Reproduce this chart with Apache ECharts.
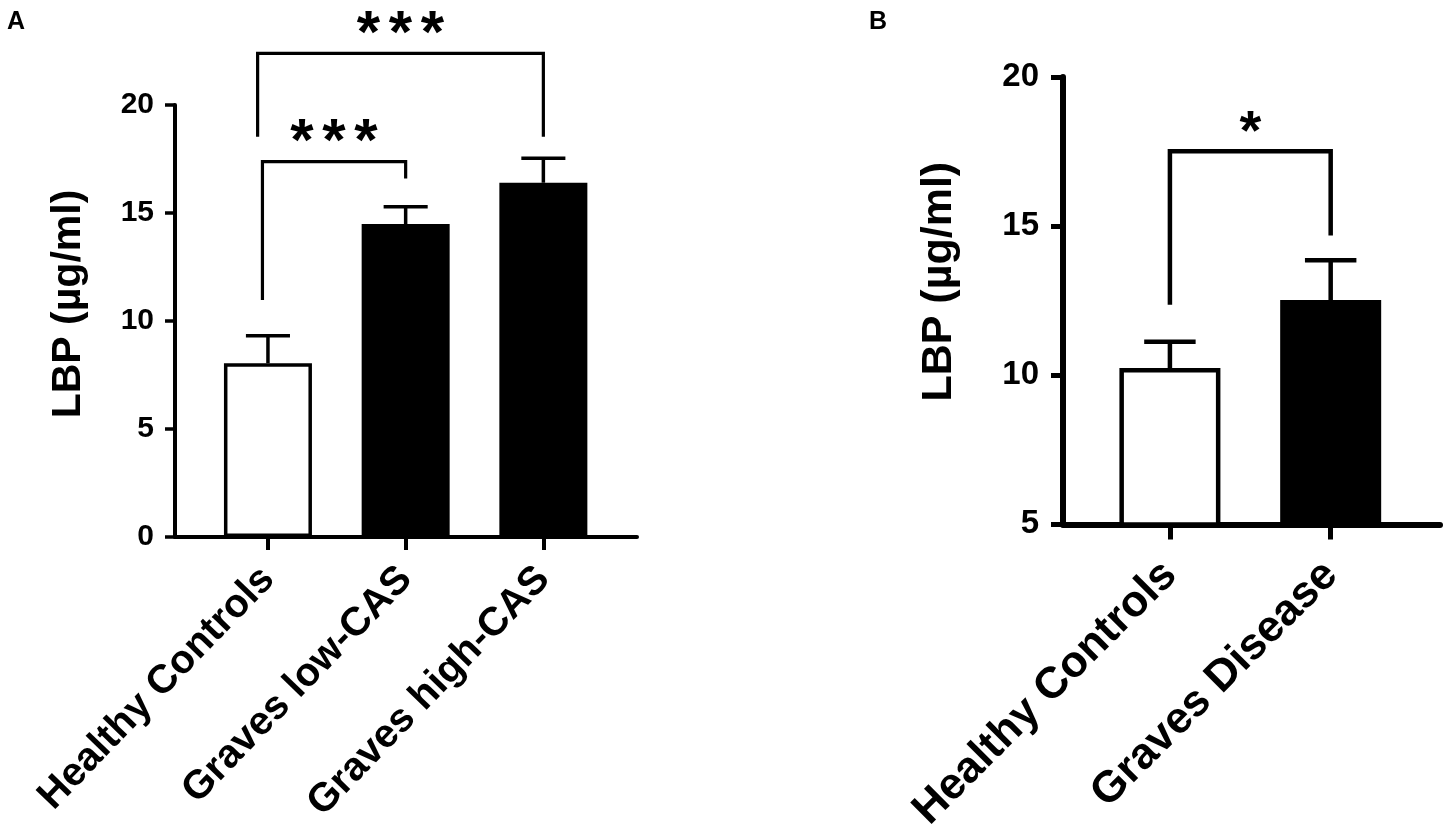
<!DOCTYPE html>
<html>
<head>
<meta charset="utf-8">
<script src="https://cdn.jsdelivr.net/npm/echarts@6/dist/echarts.min.js"></script>
<style>
  html, body { margin: 0; padding: 0; background: #fff; }
  #chart { width: 1449px; height: 835px; }
</style>
</head>
<body>
<div id="chart"></div>
<script>
// panel A data
var catsA = ['Healthy Controls', 'Graves low-CAS', 'Graves high-CAS'];
var meanA = [8.04, 14.49, 16.40];
var errA = [1.28, 0.80, 1.13];
var fillA = ['#ffffff', '#000000', '#000000'];
// brackets: [left x, right x, top y, left leg bottom, right leg bottom]
var bracketA = [[-0.04, 1, 17.38, 10.97, 16.6], [-0.075, 2, 22.39, 18.53, 18.53]];
var sigA = ['***', '***'];
var sigAY = [18.76, 23.75];

// panel B data
var catsB = ['Healthy Controls', 'Graves Disease'];
var meanB = [10.24, 12.52];
var errB = [0.88, 1.34];
var fillB = ['#ffffff', '#000000'];
var bracketB = [[0, 1, 17.51, 12.36, 14.69]];
var sigB = ['*'];
var sigBY = [18.46];

var tickFont = 'Liberation Sans, Arial, sans-serif';

function barData(mean, fill) {
    return mean.map(function (v, i) {
        return {value: [i, v], itemStyle: {color: fill[i]}};
    });
}
function errData(mean, err) {
    return mean.map(function (v, i) {
        return [i, v, v + err[i]];
    });
}
function bracketData(br, sigY) {
    return br.map(function (b, i) {
        return b.concat([sigY[i]]);
    });
}

function errRender(capHalf, lw) {
    return function (params, api) {
        var x = api.value(0);
        var p0 = api.coord([x, api.value(1)]);
        var p1 = api.coord([x, api.value(2)]);
        var c0 = api.coord([x - capHalf, api.value(2)]);
        var c1 = api.coord([x + capHalf, api.value(2)]);
        var st = {stroke: '#000', lineWidth: lw};
        return {
            type: 'group',
            children: [
                {type: 'line', shape: {x1: p0[0], y1: p0[1], x2: p1[0], y2: p1[1]}, style: st},
                {type: 'line', shape: {x1: c0[0], y1: c0[1], x2: c1[0], y2: c1[1]}, style: st}
            ]
        };
    };
}

function bracketRender(sig, lw, starSize, pitch) {
    return function (params, api) {
        var xl = api.value(0), xr = api.value(1), top = api.value(2);
        var a = api.coord([xl, api.value(3)]);
        var b = api.coord([xl, top]);
        var c = api.coord([xr, top]);
        var d = api.coord([xr, api.value(4)]);
        var s = api.coord([(xl + xr) / 2, api.value(5)]);
        var txt = sig[params.dataIndex];
        var children = [{
            type: 'polyline',
            shape: {points: [a, b, c, d]},
            style: {stroke: '#000', lineWidth: lw, fill: null}
        }];
        var n = txt.length;
        for (var i = 0; i < n; i++) {
            // the asterisk glyph sits high in the em box, so push it down
            children.push({
                type: 'text',
                x: s[0] + (i - (n - 1) / 2) * pitch,
                y: s[1] + starSize * 0.19,
                style: {
                    text: txt.charAt(i), fill: '#000',
                    font: 'bold ' + starSize + 'px ' + tickFont,
                    align: 'center', verticalAlign: 'middle'
                }
            });
        }
        return {type: 'group', children: children};
    };
}

var dom = document.getElementById('chart');
var myChart = echarts.init(dom);
var option = {
    backgroundColor: '#fff',
    animation: false,
    title: [
        {text: 'A', left: 2, top: 5, textStyle: {fontFamily: tickFont, fontWeight: 'bold', fontSize: 25, color: '#000'}},
        {text: 'B', left: 864, top: 5, textStyle: {fontFamily: tickFont, fontWeight: 'bold', fontSize: 25, color: '#000'}}
    ],
    grid: [
        {left: 175, top: 105, width: 462, height: 432},
        {left: 1063, top: 77, width: 377, height: 455}
    ],
    xAxis: [{
        gridIndex: 0, type: 'value', min: -0.675, max: 2.68,
        splitLine: {show: false},
        axisLine: {onZero: false, lineStyle: {color: '#000', width: 4}},
        axisTick: {customValues: [0, 1, 2], length: 13, lineStyle: {color: '#000', width: 4}},
        axisLabel: {
            customValues: [0, 1, 2], rotate: 46, margin: 36,
            formatter: function (v) { return catsA[Math.round(v)]; },
            fontFamily: tickFont, fontWeight: 'bold', fontSize: 40, color: '#000'
        }
    }, {
        gridIndex: 1, type: 'value', min: -0.665, max: 1.68,
        splitLine: {show: false},
        axisLine: {onZero: false, lineStyle: {color: '#000', width: 6}},
        axisTick: {customValues: [0, 1], length: 15, lineStyle: {color: '#000', width: 5}},
        axisLabel: {
            customValues: [0, 1], rotate: 45, margin: 44,
            formatter: function (v) { return catsB[Math.round(v)]; },
            fontFamily: tickFont, fontWeight: 'bold', fontSize: 44, color: '#000'
        }
    }],
    yAxis: [{
        gridIndex: 0, type: 'value', min: 0, max: 20, interval: 5,
        splitLine: {show: false},
        axisLine: {show: true, onZero: false, lineStyle: {color: '#000', width: 4}},
        axisTick: {show: true, length: 10, lineStyle: {color: '#000', width: 3.5}},
        axisLabel: {margin: 21, fontFamily: tickFont, fontWeight: 'bold', fontSize: 30, color: '#000'},
        name: 'LBP (µg/ml)', nameLocation: 'middle', nameGap: 86,
        nameTextStyle: {fontFamily: tickFont, fontWeight: 'bold', fontSize: 41, color: '#000', padding: [0, 0, 0, 34]}
    }, {
        gridIndex: 1, type: 'value', min: 5, max: 20, interval: 5,
        splitLine: {show: false},
        axisLine: {show: true, onZero: false, lineStyle: {color: '#000', width: 6}},
        axisTick: {show: true, length: 12, lineStyle: {color: '#000', width: 5}},
        axisLabel: {margin: 24, fontFamily: tickFont, fontWeight: 'bold', fontSize: 33, color: '#000'},
        name: 'LBP (µg/ml)', nameLocation: 'middle', nameGap: 102,
        nameTextStyle: {fontFamily: tickFont, fontWeight: 'bold', fontSize: 43, color: '#000', padding: [0, 0, 0, 38]}
    }],
    series: [{
        type: 'bar', xAxisIndex: 0, yAxisIndex: 0, barWidth: 88,
        itemStyle: {borderColor: '#000', borderWidth: 3.5},
        data: barData(meanA, fillA), z: 2
    }, {
        type: 'custom', xAxisIndex: 0, yAxisIndex: 0, clip: false, z: 3,
        renderItem: errRender(0.16, 3.5),
        data: errData(meanA, errA)
    }, {
        type: 'custom', xAxisIndex: 0, yAxisIndex: 0, clip: false, z: 3,
        renderItem: bracketRender(sigA, 3.2, 60, 32),
        data: bracketData(bracketA, sigAY)
    }, {
        type: 'bar', xAxisIndex: 1, yAxisIndex: 1, barWidth: 101,
        itemStyle: {borderColor: '#000', borderWidth: 4.5},
        data: barData(meanB, fillB), z: 2
    }, {
        type: 'custom', xAxisIndex: 1, yAxisIndex: 1, clip: false, z: 3,
        renderItem: errRender(0.16, 4.5),
        data: errData(meanB, errB)
    }, {
        type: 'custom', xAxisIndex: 1, yAxisIndex: 1, clip: false, z: 3,
        renderItem: bracketRender(sigB, 4.5, 56, 30),
        data: bracketData(bracketB, sigBY)
    }]
};
myChart.setOption(option, true);
</script>
</body>
</html>
